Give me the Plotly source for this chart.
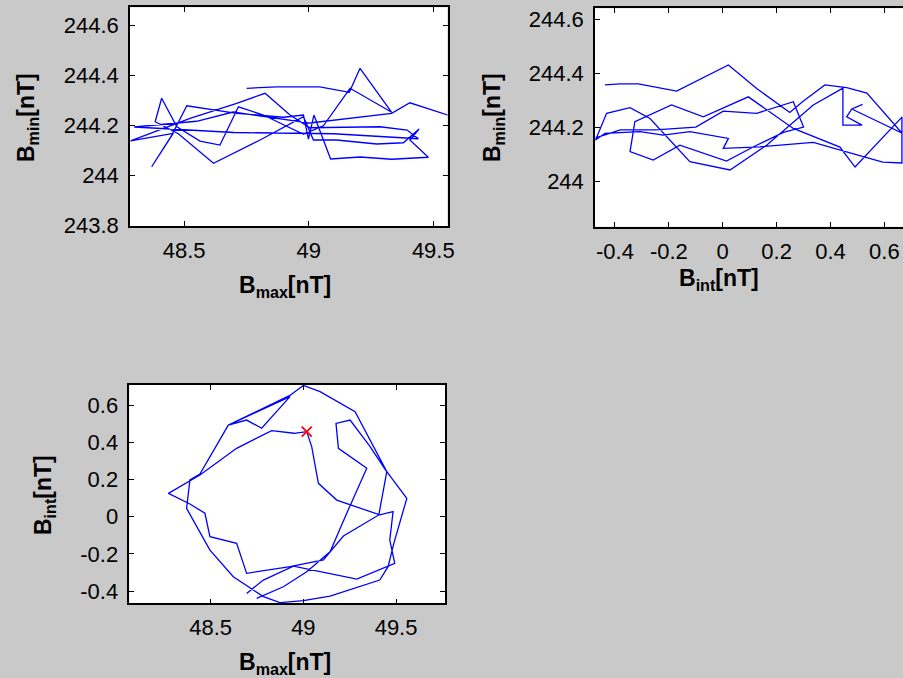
import plotly.graph_objects as go

# ---- Panel 1: B_max vs B_min ----
p1_bmax = [48.751, 48.872, 49.045, 49.163, 49.206, 49.333, 49.166, 49.059, 48.979, 48.818,
           48.718, 48.644, 48.564, 48.471, 48.410, 48.384, 48.477, 48.618, 48.805, 48.979,
           49.019, 49.112, 49.273, 49.380, 49.443, 49.406, 49.480, 49.333, 49.206, 49.088,
           49.021, 48.999, 48.979, 48.898, 48.711, 48.564, 48.511, 48.451, 48.370, 48.457,
           48.285, 48.410, 48.524, 48.711, 48.825, 48.925, 49.005, 49.286, 49.395, 49.440,
           49.100, 48.700, 48.450, 48.300, 48.550, 48.697, 49.005, 49.333, 49.406, 49.480,
           49.580]
p1_bmin = [244.347, 244.353, 244.353, 244.331, 244.427, 244.251, 244.347, 244.197, 244.163, 244.240,
           244.273, 244.120, 244.136, 244.193, 244.307, 244.213, 244.165, 244.047, 244.140, 244.233,
           244.140, 244.140, 244.124, 244.129, 244.184, 244.140, 244.071, 244.063, 244.072, 244.064,
           244.240, 244.144, 244.240, 244.231, 244.247, 244.271, 244.277, 244.160, 244.033, 244.167,
           244.137, 244.184, 244.227, 244.287, 244.327, 244.240, 244.189, 244.193, 244.180, 244.145,
           244.165, 244.170, 244.185, 244.192, 244.215, 244.252, 244.208, 244.247, 244.289, 244.264,
           244.233]

# ---- Panel 2: B_int vs B_min ----
p2_bint = [-0.437, -0.381, -0.313, -0.171, 0.021, 0.126, 0.249, 0.296, 0.379, 0.460,
           0.535, 0.665, 0.665, 0.594, 0.528, 0.336, 0.138, 0.002, 0.021, -0.122,
           -0.221, -0.307, -0.437, -0.472, -0.431, -0.344, -0.270, -0.122, 0.027, 0.163,
           0.336, 0.446, 0.446, 0.517, 0.460, 0.479, 0.519, 0.479, 0.665, 0.665,
           0.491, 0.435, 0.262, 0.095, -0.072, -0.190, -0.326, -0.344, -0.258, -0.159,
           0.014, 0.120, 0.225, 0.300, 0.262, 0.126, 0.002, -0.100, -0.250, -0.380,
           -0.472]
p2_bmin = [244.356, 244.360, 244.360, 244.333, 244.430, 244.343, 244.254, 244.294, 244.356, 244.346,
           244.326, 244.178, 244.067, 244.070, 244.089, 244.143, 244.127, 244.121, 244.158, 244.183,
           244.170, 244.183, 244.177, 244.152, 244.251, 244.272, 244.232, 244.072, 244.041, 244.133,
           244.282, 244.344, 244.207, 244.207, 244.238, 244.267, 244.284, 244.267, 244.178, 244.237,
           244.052, 244.126, 244.195, 244.312, 244.238, 244.282, 244.220, 244.109, 244.078, 244.133,
           244.074, 244.130, 244.180, 244.200, 244.294, 244.251, 244.259, 244.200, 244.190, 244.190,
           244.160]

# ---- Panel 3: B_max vs B_int (hodogram) ----
p3_bmax = [48.748, 48.892, 49.018, 49.144, 49.234, 49.342, 49.189, 49.176, 49.252, 49.360,
           49.441, 49.558, 49.488, 49.457, 49.412, 49.144, 49.000, 48.874, 48.784, 48.622,
           48.496, 48.370, 48.388, 48.442, 48.595, 48.694, 48.775, 48.928, 48.595, 48.925,
           49.000, 49.090, 49.279, 49.369, 49.450, 49.407, 49.216, 49.108, 48.928, 48.694,
           48.640, 48.496, 48.469, 48.388, 48.272, 48.442, 48.640, 48.829, 48.950, 49.018,
           49.045, 49.081, 49.180, 49.412, 49.484, 49.466, 49.493, 49.288, 49.108, 48.946,
           48.784, 48.694]
p3_bint = [-0.439, -0.377, -0.296, -0.189, 0.018, 0.260, 0.367, 0.501, 0.519, 0.376,
           0.254, 0.098, -0.144, -0.269, -0.341, -0.427, -0.452, -0.462, -0.430, -0.323,
           -0.180, 0.044, 0.197, 0.229, 0.492, 0.519, 0.475, 0.645, 0.492, 0.650,
           0.705, 0.672, 0.564, 0.394, 0.242, 0.009, -0.104, -0.233, -0.269, -0.305,
           -0.144, -0.108, 0.018, 0.068, 0.125, 0.224, 0.367, 0.462, 0.448, 0.457,
           0.376, 0.179, 0.089, 0.009, 0.027, -0.126, -0.251, -0.336, -0.300, -0.266,
           -0.341, -0.413]
start_bmax = [49.018]
start_bint = [0.457]

# ---- tick labels ----
p1_xticks = [48.5, 49, 49.5]
p1_xlabels = ["48.5", "49", "49.5"]
p1_yticks = [243.8, 244, 244.2, 244.4, 244.6]
p1_ylabels = ["243.8", "244", "244.2", "244.4", "244.6"]
p2_xticks = [-0.4, -0.2, 0, 0.2, 0.4, 0.6]
p2_xlabels = ["-0.4", "-0.2", "0", "0.2", "0.4", "0.6"]
p2_yticks = [244, 244.2, 244.4, 244.6]
p2_ylabels = ["244", "244.2", "244.4", "244.6"]
p3_xticks = [48.5, 49, 49.5]
p3_xlabels = ["48.5", "49", "49.5"]
p3_yticks = [-0.4, -0.2, 0, 0.2, 0.4, 0.6]
p3_ylabels = ["-0.4", "-0.2", "0", "0.2", "0.4", "0.6"]

W, H = 903, 678
BG = "#c9c9c9"
LINE = dict(color="#0000ff", width=1.3)
FONT = "Liberation Sans, Arial, sans-serif"

fig = go.Figure()
fig.add_trace(go.Scatter(x=p1_bmax, y=p1_bmin, mode="lines", line=LINE, xaxis="x", yaxis="y"))
fig.add_trace(go.Scatter(x=p2_bint, y=p2_bmin, mode="lines", line=LINE, xaxis="x2", yaxis="y2"))
fig.add_trace(go.Scatter(x=p3_bmax, y=p3_bint, mode="lines", line=LINE, xaxis="x3", yaxis="y3"))
fig.add_trace(go.Scatter(x=start_bmax, y=start_bint, mode="markers",
                         marker=dict(symbol="x-thin", size=10, line=dict(color="#ff0000", width=1.8)),
                         xaxis="x3", yaxis="y3"))


def ax(domain, rng, tv, tt, anchor, mirror="ticks", standoff=0):
    return dict(domain=domain, range=rng, tickvals=tv, ticktext=tt, anchor=anchor,
                showline=True, linecolor="black", linewidth=1.5, mirror=mirror,
                ticks="inside", ticklen=5, tickwidth=1, tickcolor="black",
                showgrid=False, zeroline=False, automargin=False,
                ticklabelstandoff=standoff,
                tickfont=dict(family=FONT, size=22, color="black"))


def px(x):
    return x / W


def py(y):
    return 1 - y / H


fig.update_layout(
    width=W, height=H, showlegend=False, autosize=False,
    paper_bgcolor=BG, plot_bgcolor="white",
    margin=dict(l=0, r=0, t=0, b=0, pad=0),
    xaxis=ax([px(130), px(447.5)], [48.283, 49.557], p1_xticks, p1_xlabels, "y", standoff=4),
    yaxis=ax([py(226), py(7.3)], [243.796, 244.671], p1_yticks, p1_ylabels, "x", standoff=5),
    xaxis2=ax([px(595), 1.0], [-0.474, 0.669], p2_xticks, p2_xlabels, "y2", standoff=4),
    yaxis2=ax([py(226.7), py(8.3)], [243.831, 244.64], p2_yticks, p2_ylabels, "x2",
              mirror=False, standoff=5),
    xaxis3=ax([px(129.3), px(445)], [48.061, 49.764], p3_xticks, p3_xlabels, "y3", standoff=4),
    yaxis3=ax([py(603.3), py(385)], [-0.466, 0.7075], p3_yticks, p3_ylabels, "x3", standoff=5),
)

TF = dict(family=FONT, size=23, color="black")
titles = [
    ("<b>B<sub>max</sub>[nT]</b>", px(285), py(286), 0),
    ("<b>B<sub>int</sub>[nT]</b>", px(719), py(279), 0),
    ("<b>B<sub>max</sub>[nT]</b>", px(285), py(663), 0),
    ("<b>B<sub>min</sub>[nT]</b>", px(27), py(118), -90),
    ("<b>B<sub>min</sub>[nT]</b>", px(493), py(118), -90),
    ("<b>B<sub>int</sub>[nT]</b>", px(44), py(495), -90),
]
for text, x, y, ang in titles:
    fig.add_annotation(text=text, x=x, y=y, xref="paper", yref="paper",
                       xanchor="center", yanchor="middle", showarrow=False,
                       textangle=ang, font=TF)

fig.write_html("out.html", config={"displayModeBar": False},
               post_script="document.body.style.margin='0';")
